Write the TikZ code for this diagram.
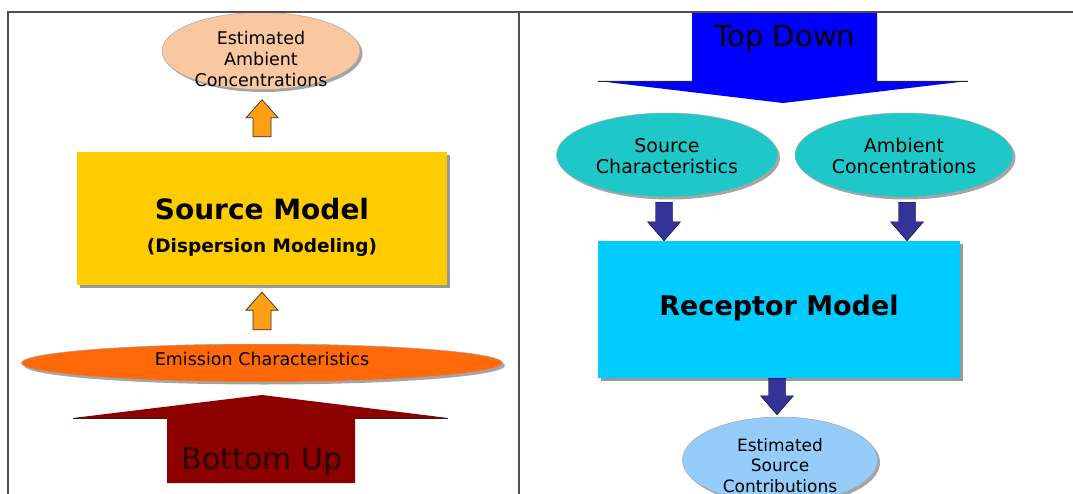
\documentclass[tikz,border=0pt]{standalone}
\usepackage{fontspec}
\setmainfont{DejaVu Sans}
\usetikzlibrary{shapes.geometric,shadows,calc}
\definecolor{peach}{RGB}{250,200,160}
\definecolor{arrorange}{RGB}{255,160,20}
\definecolor{srcyellow}{RGB}{255,204,0}
\definecolor{emiorange}{RGB}{255,105,10}
\definecolor{darkred}{RGB}{140,0,0}
\definecolor{topblue}{RGB}{0,0,255}
\definecolor{tealfill}{RGB}{30,200,200}
\definecolor{navyarrow}{RGB}{51,51,153}
\definecolor{cyanfill}{RGB}{0,204,255}
\definecolor{lightbluefill}{RGB}{150,204,250}
\definecolor{framegray}{RGB}{80,80,80}
\definecolor{bottomtext}{RGB}{40,0,0}
\newcommand\lbl[2]{\raisebox{#1}{\smash{\begin{tabular}[t]{@{}c@{}}#2\end{tabular}}}}
\tikzset{
  blockarrow/.style n args={3}{to path={let \p1=(\tikztostart), \p2=(\tikztotarget), \n1={sign(\y2-\y1)} in
    (\x1-#1,\y1) -- (\x1-#1,\y2-\n1*#3) -- (\x1-#2,\y2-\n1*#3) -- (\x1,\y2) -- (\x1+#2,\y2-\n1*#3) -- (\x1+#1,\y2-\n1*#3) -- (\x1+#1,\y1) -- cycle}},
  orangearrow/.style={fill=arrorange, draw=black!80, line width=0.7pt, line join=miter, blockarrow={9pt}{16pt}{18pt}},
  navyarrowstyle/.style={fill=navyarrow, blockarrow={8.5pt}{16.5pt}{19pt}},
  ell/.style={ellipse, draw=black!35, line width=0.5pt, inner sep=0pt,
    drop shadow={shadow xshift=2.5pt, shadow yshift=-2.5pt, fill=black!50, opacity=0.7}},
  box/.style={rectangle, inner sep=0pt,
    drop shadow={shadow xshift=3pt, shadow yshift=-3pt, fill=black!50, opacity=0.8}},
  txt/.style={inner sep=0pt, text=black},
  framestyle/.style={draw=framegray, line width=1.3pt},
  wingedge/.style={draw=black!85, line width=0.9pt}
}
\begin{document}
\begin{tikzpicture}[x=1pt,y=-1pt]
\useasboundingbox (0,0) rectangle (1073,494);
\clip (0,0) rectangle (1073,494);
\fill[white] (0,0) rectangle (1073,494);

% ---------------- left panel: bottom up ----------------
\node[ell, fill=peach, minimum width=198pt, minimum height=77pt,
      font=\fontsize{17.5}{21}\selectfont] (est) at (261,51)
      {\lbl{12pt}{Estimated\\Ambient\\Concentrations}};
\node[box, fill=srcyellow, minimum width=370pt, minimum height=133pt,
      font=\fontsize{28}{33}\selectfont\bfseries] (src) at (262,218.5)
      {\lbl{-1.5pt}{Source Model\\
       \fontsize{18.5}{22}\selectfont\bfseries (Dispersion Modeling)}};
\node[ell, fill=emiorange, minimum width=481pt, minimum height=38pt,
      font=\fontsize{17.5}{21}\selectfont] (emi) at (262,363)
      {\lbl{-5.5pt}{Emission Characteristics}};

\draw[orangearrow] ([yshift=15pt]src.north) to ([yshift=-10pt]est.south);
\draw[orangearrow] ([yshift=14pt]emi.north) to ([yshift=-7pt]src.south);

\fill[darkred] (167,483) -- (167,418) -- (73,418) -- (262,395) -- (448,418) -- (355,418) -- (355,483) -- cycle;
\draw[wingedge] (73,418) -- (167,418) (355,418) -- (448,418);
\node[txt, font=\fontsize{30}{33}\selectfont, text=bottomtext] (bu) at (262,469) {\lbl{0pt}{Bottom Up}};

% ---------------- right panel: top down ----------------
\fill[topblue] (692,12) -- (692,81) -- (598,81) -- (783,103) -- (968,81) -- (877,81) -- (877,12) -- cycle;
\draw[wingedge] (598,81) -- (692,81) (877,81) -- (968,81);
\node[txt, font=\fontsize{29}{33}\selectfont] (td) at (785,47) {\lbl{0pt}{Top Down}};

\node[ell, fill=tealfill, minimum width=221pt, minimum height=84pt,
      font=\fontsize{19}{20.5}\selectfont] (sc) at (667,155)
      {\lbl{4pt}{Source\\Characteristics}};
\node[ell, fill=tealfill, minimum width=218pt, minimum height=84pt,
      font=\fontsize{19}{20.5}\selectfont] (ac) at (904,155)
      {\lbl{4pt}{Ambient\\Concentrations}};
\node[box, fill=cyanfill, minimum width=362pt, minimum height=137pt,
      font=\fontsize{27}{31}\selectfont\bfseries] (rm) at (779,309.5)
      {\lbl{-12.5pt}{Receptor Model}};
\node[ell, fill=lightbluefill, minimum width=195pt, minimum height=86pt,
      font=\fontsize{17}{20.5}\selectfont] (esc) at (780,460)
      {\lbl{18pt}{Estimated\\Source\\Contributions}};

\draw[navyarrowstyle] ([xshift=-3pt,yshift=-5pt]sc.south) to ([xshift=-3pt]sc.south |- rm.north);
\draw[navyarrowstyle] ([xshift=3pt,yshift=-5pt]ac.south) to ([xshift=3pt]ac.south |- rm.north);
\draw[navyarrowstyle] ([xshift=-2pt]rm.south) to ([xshift=-2pt,yshift=2pt]rm.south |- esc.north);

% ---------------- frame ----------------
\draw[framestyle] (8,494) -- (8,12) -- (1073,12);
\draw[framestyle] (519,12) -- (519,494);
\end{tikzpicture}
\end{document}
